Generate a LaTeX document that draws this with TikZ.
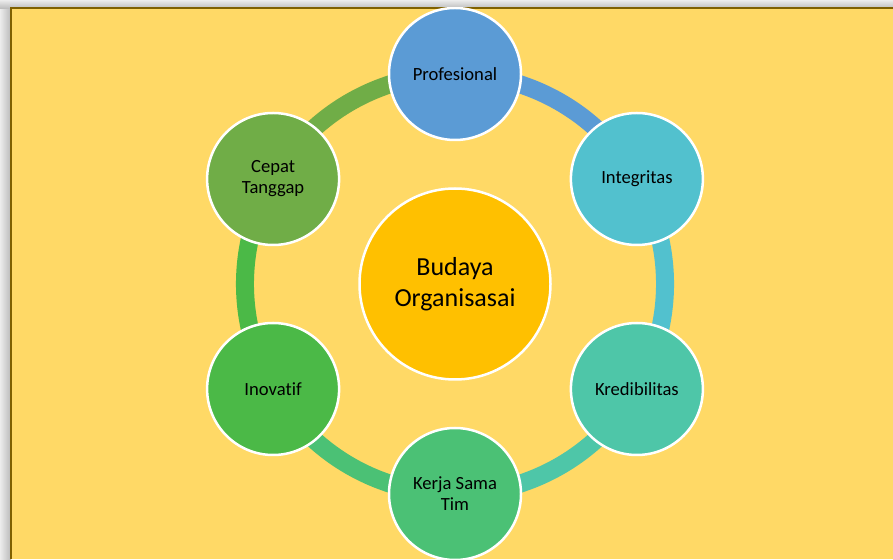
\documentclass[tikz,border=0pt]{standalone}
\usepackage{fontspec}
\setmainfont{Carlito}[Ligatures=NoCommon]
\usetikzlibrary{backgrounds}

\definecolor{bgyellow}{HTML}{FFD966}
\definecolor{edgebrown}{HTML}{7F6000}
\definecolor{cprof}{HTML}{5B9BD5}
\definecolor{cinteg}{HTML}{52C1CE}
\definecolor{ckred}{HTML}{4EC6A8}
\definecolor{ckerja}{HTML}{4BC175}
\definecolor{cinov}{HTML}{4BB947}
\definecolor{ccepat}{HTML}{70AD47}
\definecolor{ccore}{HTML}{FFC000}

\begin{document}
\begin{tikzpicture}[x=1pt, y=1pt,
    value/.style={circle, draw=white, line width=2.5pt, minimum size=132pt, inner sep=0pt,
        align=center, font=\fontsize{18.6}{21}\selectfont},
    core/.style={circle, draw=white, line width=2.5pt, fill=ccore, minimum size=191pt,
        inner sep=0pt, align=center, font=\fontsize{26}{31.5}\selectfont},
    ring/.style={line width=18pt}]
    \useasboundingbox (0,0) rectangle (893,559);

    \begin{scope}
    \clip (11,0) rectangle (893,551);
    % Centre
    \node[core] (budaya) at (455,275) {Budaya\\Organisasai};

    % Values
    \node[value, fill=cprof]  (prof)  at (455,485) {Profesional};
    \node[value, fill=cinteg] (integ) at (636.9,380) {Integritas};
    \node[value, fill=ckred]  (kred)  at (636.9,170) {Kredibilitas};
    \node[value, fill=ckerja] (kerja) at (455,65) {Kerja Sama\\Tim};
    \node[value, fill=cinov]  (inov)  at (273.1,170) {Inovatif};
    \node[value, fill=ccepat] (cepat) at (273.1,380) {Cepat\\Tanggap};
    \end{scope}

    \begin{scope}[on background layer]
    % Window edge
    \shade[left color=gray!15, right color=gray!55] (0,0) rectangle (11,559);
    \shade[top color=gray!15, bottom color=gray!55] (0,550) rectangle (893,559);
    % Background
    \fill[bgyellow] (11,0) rectangle (893,551);
    \draw[edgebrown, line width=1.5pt] (11,0) -- (11,551) -- (893,551);

    % Ring
    \draw[ring, cprof]  (prof.center)  arc[start angle=90,   end angle=30,   radius=210pt];
    \draw[ring, cinteg] (integ.center) arc[start angle=30,   end angle=-30,  radius=210pt];
    \draw[ring, ckred]  (kred.center)  arc[start angle=-30,  end angle=-90,  radius=210pt];
    \draw[ring, ckerja] (kerja.center) arc[start angle=-90,  end angle=-150, radius=210pt];
    \draw[ring, cinov]  (inov.center)  arc[start angle=-150, end angle=-210, radius=210pt];
    \draw[ring, ccepat] (cepat.center) arc[start angle=150,  end angle=90,   radius=210pt];
    \end{scope}
\end{tikzpicture}
\end{document}
